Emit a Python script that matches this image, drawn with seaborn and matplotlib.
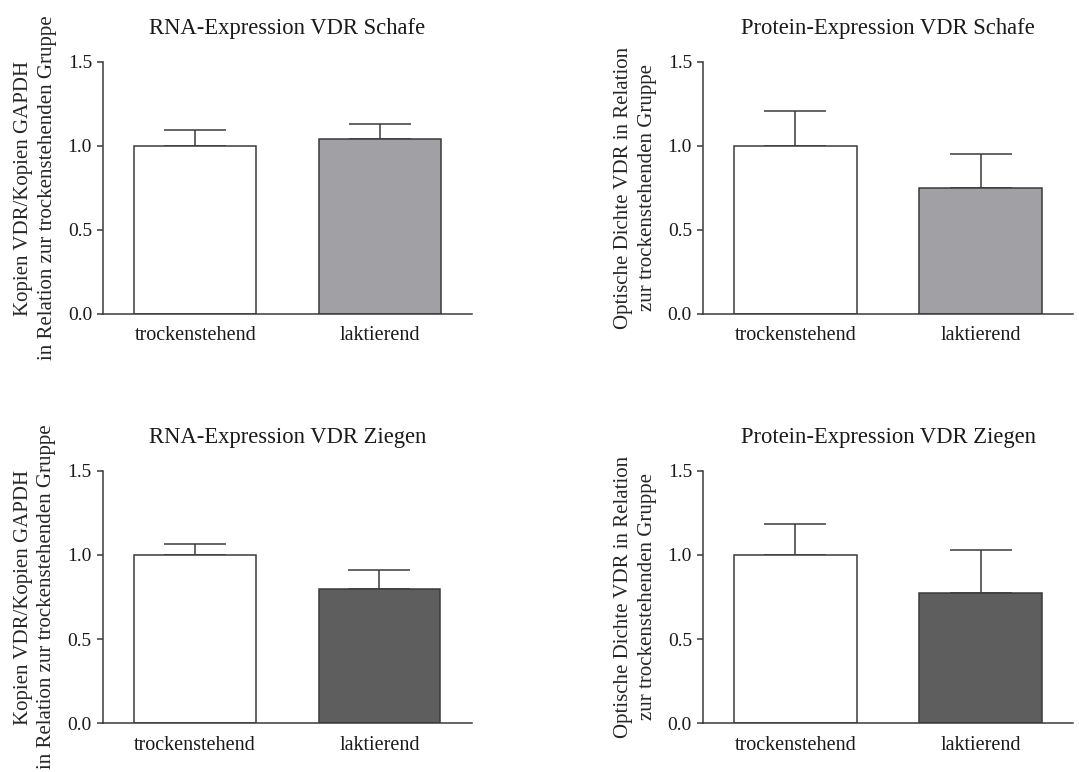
import matplotlib
matplotlib.use("Agg")
import matplotlib.pyplot as plt
import seaborn as sns
import numpy as np

# Groups
categories = ["trockenstehend", "laktierend"]

# Mean values (relative to the dry group) and upper error (SEM)
rna_schafe_mean = [1.00, 1.04]
rna_schafe_err = [0.097, 0.093]

prot_schafe_mean = [1.00, 0.75]
prot_schafe_err = [0.21, 0.202]

rna_ziegen_mean = [1.00, 0.80]
rna_ziegen_err = [0.065, 0.108]

prot_ziegen_mean = [1.00, 0.776]
prot_ziegen_err = [0.182, 0.253]

titles = [
    "RNA-Expression VDR Schafe",
    "Protein-Expression VDR Schafe",
    "RNA-Expression VDR Ziegen",
    "Protein-Expression VDR Ziegen",
]
ylabel_rna = "Kopien VDR/Kopien GAPDH\nin Relation zur trockenstehenden Gruppe"
ylabel_prot = "Optische Dichte VDR in Relation\nzur trockenstehenden Gruppe"
yticks = [0.0, 0.5, 1.0, 1.5]
ytick_labels = ["0.0", "0.5", "1.0", "1.5"]

sheep_colors = ["#ffffff", "#a1a1a5"]
goat_colors = ["#ffffff", "#5e5e5e"]
line_color = "#3a3a3a"

sns.set_theme(style="white")
plt.rcParams["font.family"] = ["Liberation Serif", "DejaVu Serif"]
plt.rcParams["axes.edgecolor"] = line_color
plt.rcParams["text.color"] = "#1a1a1a"
plt.rcParams["xtick.color"] = line_color
plt.rcParams["ytick.color"] = line_color
plt.rcParams["xtick.labelcolor"] = "#1a1a1a"
plt.rcParams["ytick.labelcolor"] = "#1a1a1a"

fig = plt.figure(figsize=(10.79, 7.72), dpi=100)

panels = [
    ([0.0955, 0.5933, 0.342, 0.3264], rna_schafe_mean, rna_schafe_err, sheep_colors, titles[0], ylabel_rna),
    ([0.6515, 0.5933, 0.343, 0.3264], prot_schafe_mean, prot_schafe_err, sheep_colors, titles[1], ylabel_prot),
    ([0.0952, 0.0631, 0.342, 0.3272], rna_ziegen_mean, rna_ziegen_err, goat_colors, titles[2], ylabel_rna),
    ([0.6515, 0.0631, 0.343, 0.3272], prot_ziegen_mean, prot_ziegen_err, goat_colors, titles[3], ylabel_prot),
]

for rect, means, errs, colors, title, ylabel in panels:
    ax = fig.add_axes(rect)
    # upper error bars only, drawn beneath the bars
    ax.errorbar(
        x=np.arange(len(categories)), y=means,
        yerr=[np.zeros(len(errs)), errs],
        fmt="none", ecolor=line_color, elinewidth=1.1,
        capsize=22, capthick=1.1, zorder=1,
    )
    sns.barplot(
        x=categories, y=means, hue=categories, palette=colors,
        edgecolor=line_color, linewidth=1.1, width=0.66,
        legend=False, ax=ax, zorder=2,
    )
    ax.set_xlim(-0.5, 1.5)
    ax.set_ylim(0, 1.5)
    ax.set_yticks(yticks)
    ax.set_yticklabels(ytick_labels)
    ax.set_title(title, fontsize=16.3, pad=20)
    ax.set_ylabel(ylabel, fontsize=15, labelpad=8, linespacing=1.3)
    ax.set_xlabel("")
    for side in ("top", "right"):
        ax.spines[side].set_visible(False)
    for side in ("left", "bottom"):
        ax.spines[side].set_linewidth(1.1)
        ax.spines[side].set_color(line_color)
    ax.tick_params(axis="y", which="both", left=True, length=4.3, width=1.1,
                   pad=3.6, labelsize=14, direction="out")
    ax.tick_params(axis="x", which="both", bottom=False, length=0, pad=9,
                   labelsize=14.5)
    ax.set_facecolor("white")

fig.savefig("out.png", dpi=100, facecolor="white")
